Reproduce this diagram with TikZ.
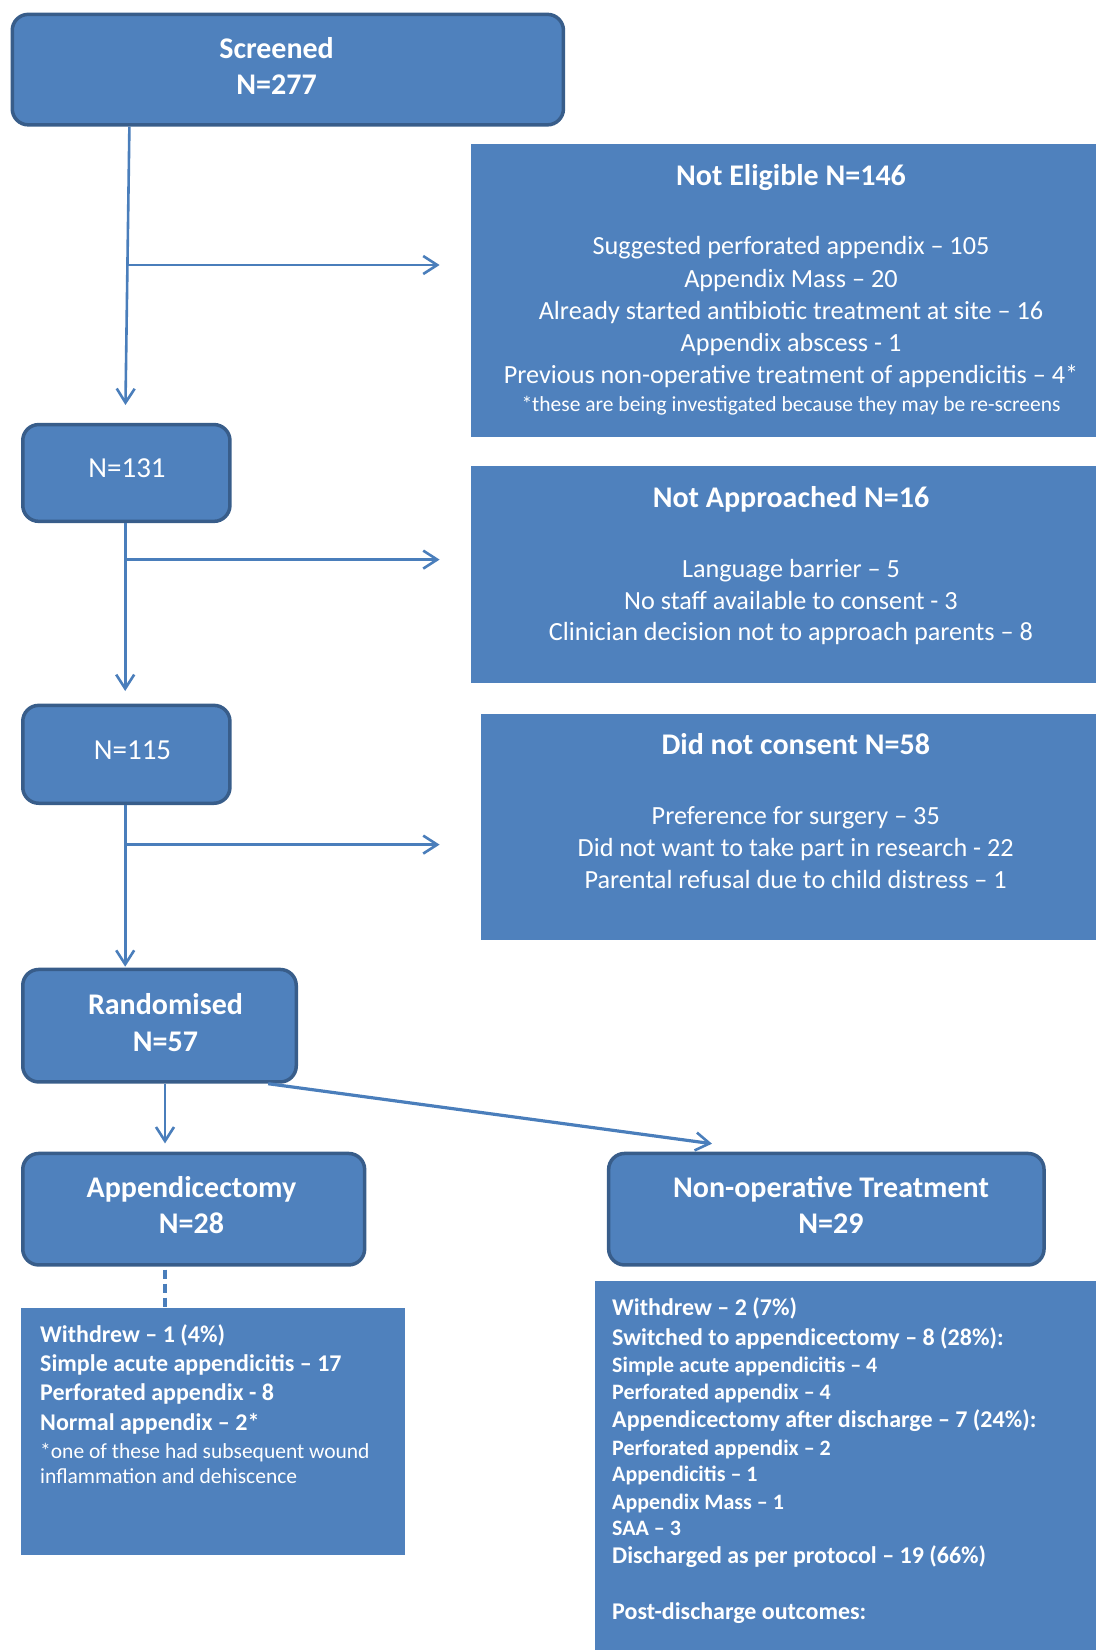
\documentclass[tikz,border=0pt]{standalone}
\usepackage{fontspec}
\setmainfont{Carlito}
\usetikzlibrary{arrows.meta,calc}

\definecolor{boxfill}{HTML}{4F81BD}
\definecolor{boxline}{HTML}{385D8A}
\definecolor{linkc}{HTML}{4A7EBB}

\tikzset{
  rbox/.style={draw=boxline, line width=3.5pt, fill=boxfill, rounded corners=16pt,
               inner sep=0pt, anchor=north west},
  pbox/.style={fill=boxfill, inner sep=0pt, anchor=north west},
  conn/.style={draw=linkc, line width=2.6pt,
               -{Straight Barb[length=14pt,width=18pt,line width=2.6pt]}},
  dashconn/.style={draw=linkc, line width=3.6pt, dash pattern=on 9pt off 5pt},
  txt/.style={text=white, inner sep=0pt, anchor=base},
  ltxt/.style={text=white, inner sep=0pt, anchor=base west},
  hdB/.style={font=\fontsize{30}{36}\selectfont\bfseries},
  bodyR/.style={font=\fontsize{26.2}{32}\selectfont},
  numR/.style={font=\fontsize{29}{35}\selectfont},
  noteR/.style={font=\fontsize{21.5}{26}\selectfont},
  itemB/.style={font=\fontsize{24}{29}\selectfont\bfseries},
  subB/.style={font=\fontsize{22}{27}\selectfont\bfseries},
}

\begin{document}
\begin{tikzpicture}[x=1pt,y=-1pt]
\useasboundingbox (0,0) rectangle (1096,1650);

% ---------- boxes ----------
\node[rbox, minimum width=551.2pt, minimum height=110.5pt] (scr)   at (10.5,12.6)  {};
\node[pbox, minimum width=624.8pt, minimum height=292.4pt] (ne)    at (471.2,144.1) {};
\node[rbox, minimum width=207.2pt, minimum height=96.8pt]  (n131)  at (21,422.8)  {};
\node[pbox, minimum width=624.8pt, minimum height=216.6pt] (na)    at (471.2,466)  {};
\node[rbox, minimum width=207.2pt, minimum height=97.9pt]  (n115)  at (21,703.6)  {};
\node[pbox, minimum width=615.3pt, minimum height=225.1pt] (dnc)   at (480.7,714.2) {};
\node[rbox, minimum width=273.5pt, minimum height=112.5pt] (rand)  at (21,967.7)  {};
\node[rbox, minimum width=341.9pt, minimum height=111.5pt] (app)   at (21,1151.7) {};
\node[rbox, minimum width=435.4pt, minimum height=111.5pt] (nonop) at (606.9,1151.7) {};
\node[pbox, minimum width=384pt,   minimum height=247.2pt] (lout)  at (21,1307.4) {};
\node[pbox, minimum width=501.7pt, minimum height=368.8pt] (rout)  at (594.3,1281.2) {};

% ---------- connectors ----------
\coordinate (t0) at ($(scr.south west)+(118.9,0)$);
\coordinate (t1) at ($(n131.north west)+(104.2,0)$);
\coordinate (b1) at (127.3,265);
\draw[conn, shorten >=17.8pt] (t0) -- (t1);
\draw[conn, shorten >=31.6pt] (b1) -- (ne.west |- b1);

\coordinate (u0) at ($(n131.south west)+(104.2,0)$);
\coordinate (u1) at ($(n115.north west)+(104.2,0)$);
\coordinate (b2) at (125.2,559.6);
\draw[conn, shorten >=12.6pt] (u0) -- (u1);
\draw[conn, shorten >=31.6pt] (b2) -- (na.west |- b2);

\coordinate (v0) at ($(n115.south west)+(104.2,0)$);
\coordinate (v1) at ($(rand.north west)+(104.2,0)$);
\coordinate (b3) at (125.2,844.6);
\draw[conn, shorten >=1pt] (v0) -- (v1);
\draw[conn, shorten >=41.1pt] (b3) -- (dnc.west |- b3);

\coordinate (w0) at ($(rand.south west)+(144,0)$);
\coordinate (w1) at ($(app.north west)+(144,0)$);
\draw[conn, shorten >=8.3pt] (w0) -- (w1);

\coordinate (d0) at ($(rand.south west)+(247.2,0)$);
\coordinate (d1) at ($(nonop.north west)+(105.1,-8)$);
\draw[conn, line width=3.2pt] (d0) -- (d1);

\coordinate (q0) at ($(app.south west)+(144,3)$);
\draw[dashconn] (q0) -- (lout.north -| q0);

% ---------- texts ----------
\node[txt, hdB] (scrA) at (276.6,58.3) {Screened};
\node[txt, hdB] (scrB) at (276.6,94.1) {N=277};

\node[txt, hdB]   (neT) at (791,185.6) {Not Eligible N=146};
\node[txt, bodyR] (ne1) at (791,254.9) {Suggested perforated appendix – 105};
\node[txt, bodyR] (ne2) at (791,287.5) {Appendix Mass – 20};
\node[txt, bodyR] (ne3) at (791,319.0) {Already started antibiotic treatment at site – 16};
\node[txt, bodyR] (ne4) at (791,351.6) {Appendix abscess - 1};
\node[txt, bodyR] (ne5) at (791,383.2) {Previous non-operative treatment of appendicitis – 4*};
\node[txt, noteR] (ne6) at (791,411.3) {*these are being investigated because they may be re-screens};

\node[txt, numR] (n131t) at (127,477.7) {N=131};

\node[txt, hdB]   (naT) at (791,507.4) {Not Approached N=16};
\node[txt, bodyR] (na1) at (791,577.8) {Language barrier – 5};
\node[txt, bodyR] (na2) at (791,609.3) {No staff available to consent - 3};
\node[txt, bodyR] (na3) at (791,640.8) {Clinician decision not to approach parents – 8};

\node[txt, numR] (n115t) at (132.5,759.7) {N=115};

\node[txt, hdB]   (dncT) at (795.7,754.6) {Did not consent N=58};
\node[txt, bodyR] (dnc1) at (795.7,824.9) {Preference for surgery – 35};
\node[txt, bodyR] (dnc2) at (795.7,856.5) {Did not want to take part in research - 22};
\node[txt, bodyR] (dnc3) at (795.7,888.1) {Parental refusal due to child distress – 1};

\node[txt, hdB] (randA) at (165.5,1014.4) {Randomised};
\node[txt, hdB] (randB) at (165.5,1051.2) {N=57};

\node[txt, hdB] (appA) at (191.4,1197.4) {Appendicectomy};
\node[txt, hdB] (appB) at (191.4,1233.2) {N=28};

\node[txt, hdB] (nonA) at (831,1197.4) {Non-operative Treatment};
\node[txt, hdB] (nonB) at (831,1233.2) {N=29};

\node[ltxt, itemB] (l1) at (40,1342.0) {Withdrew – 1 (4\%)};
\node[ltxt, itemB] (l2) at (40,1371.5) {Simple acute appendicitis – 17};
\node[ltxt, itemB] (l3) at (40,1400.9) {Perforated appendix - 8};
\node[ltxt, itemB] (l4) at (40,1430.4) {Normal appendix – 2*};
\node[ltxt, noteR] (l5) at (40,1458.0) {*one of these had subsequent wound};
\node[ltxt, noteR] (l6) at (40,1483.0) {inflammation and dehiscence};

\node[ltxt, itemB] (r1)  at (612,1315.1) {Withdrew – 2 (7\%)};
\node[ltxt, itemB] (r2)  at (612,1345.5) {Switched to appendicectomy – 8 (28\%):};
\node[ltxt, subB]  (r3)  at (612,1372.2) {Simple acute appendicitis – 4};
\node[ltxt, subB]  (r4)  at (612,1399.6) {Perforated appendix – 4};
\node[ltxt, itemB] (r5)  at (612,1427.5) {Appendicectomy after discharge – 7 (24\%):};
\node[ltxt, subB]  (r6)  at (612,1455.3) {Perforated appendix – 2};
\node[ltxt, subB]  (r7)  at (612,1481.6) {Appendicitis – 1};
\node[ltxt, subB]  (r8)  at (612,1509.0) {Appendix Mass – 1};
\node[ltxt, subB]  (r9)  at (612,1535.3) {SAA – 3};
\node[ltxt, itemB] (r10) at (612,1563.2) {Discharged as per protocol – 19 (66\%)};
\node[ltxt, itemB] (r11) at (612,1619.2) {Post-discharge outcomes:};
\end{tikzpicture}
\end{document}
